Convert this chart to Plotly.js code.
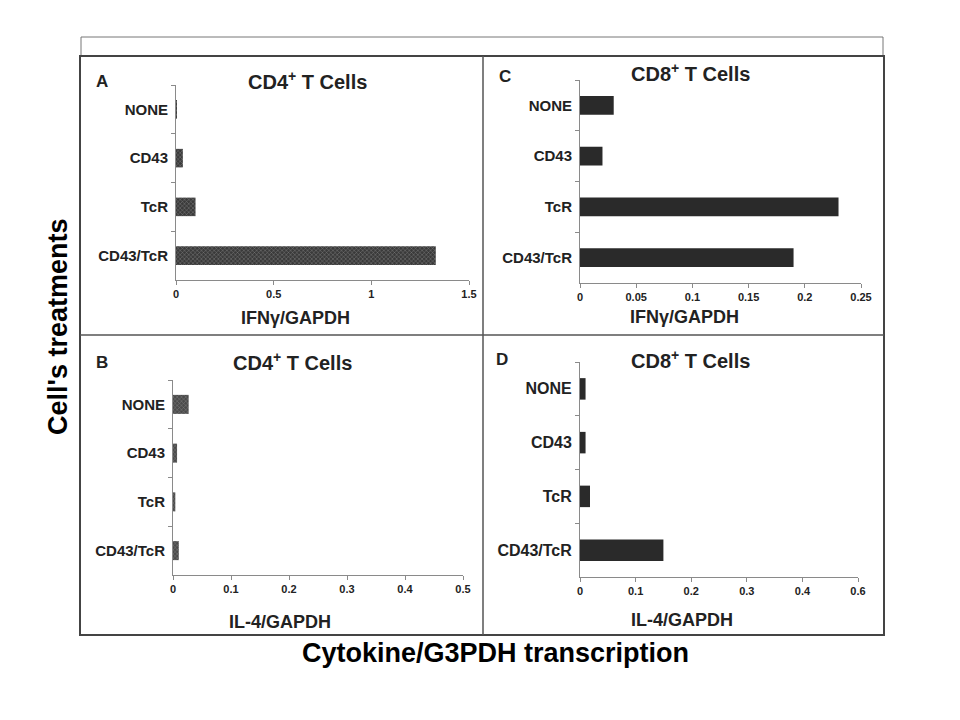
<!DOCTYPE html>
<html>
<head>
<meta charset="utf-8">
<script src="https://cdn.plot.ly/plotly-3.0.1.min.js"></script>
<style>
  html, body { margin: 0; padding: 0; background: #fff; }
  #chart { width: 960px; height: 720px; }
</style>
</head>
<body>
<div id="chart"></div>
<script>
// treatments, top to bottom
const treatments = ['NONE', 'CD43', 'TcR', 'CD43/TcR'];

// cytokine / GAPDH ratios
const cd4Ifng = [0.005, 0.035, 0.1, 1.33];
const cd8Ifng = [0.03, 0.02, 0.23, 0.19];
const cd4Il4 = [0.027, 0.007, 0.004, 0.01];
const cd8Il4 = [0.01, 0.01, 0.018, 0.15];

// x tick labels as printed (panel D reads 0.6 at the last tick)
const ticksA = [0, 0.5, 1, 1.5];
const ticksC = [0, 0.05, 0.1, 0.15, 0.2, 0.25];
const ticksB = [0, 0.1, 0.2, 0.3, 0.4, 0.5];
const ticksD = [0, 0.1, 0.2, 0.3, 0.4, 0.5];
const tickTextD = ['0', '0.1', '0.2', '0.3', '0.4', '0.6'];

const W = 960, H = 720;
const px = x => x / W;
const py = y => 1 - y / H;

const FONT = 'Liberation Sans, Arial, sans-serif';
const axisGray = '#8a8a8a';

function bar(values, xa, ya, color, hatched, width) {
  const t = {
    type: 'bar',
    orientation: 'h',
    y: treatments,
    x: values,
    xaxis: xa,
    yaxis: ya,
    width: width,
    marker: { color: color, line: { width: 0 } },
    hoverinfo: 'x+y'
  };
  if (hatched) {
    t.marker.pattern = { shape: 'x', fgcolor: '#8a8a8a', bgcolor: color, size: 3, solidity: 0.25 };
  }
  return t;
}

function xAxis(domain, anchor, range, ticks, text) {
  const a = {
    domain: [px(domain[0]), px(domain[1])],
    anchor: anchor,
    range: range,
    tickvals: ticks,
    showgrid: false,
    zeroline: false,
    showline: true,
    linecolor: axisGray,
    linewidth: 1,
    ticks: 'outside',
    ticklen: 4,
    tickcolor: axisGray,
    tickfont: { family: FONT, size: 11, color: '#222', weight: 'bold' },
    fixedrange: true
  };
  a.ticktext = text || ticks.map(String);
  return a;
}

function yAxis(top, bottom, anchor, size) {
  return {
    domain: [py(bottom), py(top)],
    anchor: anchor,
    type: 'category',
    categoryorder: 'array',
    categoryarray: treatments,
    range: [3.5, -0.5],
    showgrid: false,
    zeroline: false,
    showline: true,
    linecolor: axisGray,
    linewidth: 1,
    ticks: 'outside',
    tickson: 'boundaries',
    ticklen: 4,
    tickcolor: axisGray,
    ticklabelstandoff: 4,
    tickfont: { family: FONT, size: size, color: '#222', weight: 'bold' },
    fixedrange: true
  };
}

function label(text, x, y, size, extra) {
  return Object.assign({
    text: text,
    xref: 'paper', yref: 'paper',
    x: px(x), y: py(y),
    xanchor: 'center', yanchor: 'middle',
    showarrow: false,
    font: { family: FONT, size: size, color: '#222', weight: 'bold' }
  }, extra || {});
}

const data = [
  bar(cd4Ifng, 'x', 'y', '#3a3a3a', true, 0.38),
  bar(cd8Ifng, 'x2', 'y2', '#2a2a2a', false, 0.37),
  bar(cd4Il4, 'x3', 'y3', '#4a4a4a', true, 0.39),
  bar(cd8Il4, 'x4', 'y4', '#2a2a2a', false, 0.4)
];

const layout = {
  width: W,
  height: H,
  margin: { l: 0, r: 0, t: 0, b: 0 },
  paper_bgcolor: '#fff',
  plot_bgcolor: 'rgba(0,0,0,0)',
  showlegend: false,
  xaxis: xAxis([176, 469], 'y', [0, 1.5], ticksA),
  yaxis: yAxis(85, 280, 'x', 15),
  xaxis2: xAxis([580, 861], 'y2', [0, 0.25], ticksC),
  yaxis2: yAxis(80, 283, 'x2', 15),
  xaxis3: xAxis([173, 463], 'y3', [0, 0.5], ticksB),
  yaxis3: yAxis(380, 575, 'x3', 15),
  xaxis4: xAxis([580, 858], 'y4', [0, 0.5], ticksD, tickTextD),
  yaxis4: yAxis(362, 577, 'x4', 16),
  shapes: [
    { type: 'rect', xref: 'paper', yref: 'paper', x0: px(81), x1: px(883), y0: py(56), y1: py(37),
      line: { color: '#777', width: 1 } },
    { type: 'rect', xref: 'paper', yref: 'paper', x0: px(80), x1: px(884), y0: py(635), y1: py(56),
      line: { color: '#444', width: 2 } },
    { type: 'line', xref: 'paper', yref: 'paper', x0: px(483), x1: px(483), y0: py(635), y1: py(56),
      line: { color: '#555', width: 1.5 } },
    { type: 'line', xref: 'paper', yref: 'paper', x0: px(80), x1: px(884), y0: py(335), y1: py(335),
      line: { color: '#555', width: 1.5 } }
  ],
  annotations: [
    label('A', 102, 81, 17),
    label('CD4<sup>+</sup> T Cells', 307, 80, 20),
    label('IFNγ/GAPDH', 295, 318, 18),
    label('C', 505, 77, 17),
    label('CD8<sup>+</sup> T Cells', 690, 73, 20),
    label('IFNγ/GAPDH', 684, 317, 18),
    label('B', 102, 362, 17),
    label('CD4<sup>+</sup> T Cells', 292, 361, 20),
    label('IL-4/GAPDH', 280, 622, 18),
    label('D', 502, 359, 17),
    label('CD8<sup>+</sup> T Cells', 690, 359, 20),
    label('IL-4/GAPDH', 682, 620, 18),
    label("Cell's treatments", 58, 327, 27, { textangle: -90, font: { family: FONT, size: 27, color: '#000', weight: 'bold' } }),
    label('Cytokine/G3PDH transcription', 495, 653, 27, { font: { family: FONT, size: 27, color: '#000', weight: 'bold' } })
  ]
};

Plotly.newPlot('chart', data, layout, { displayModeBar: false, staticPlot: true });
</script>
</body>
</html>
